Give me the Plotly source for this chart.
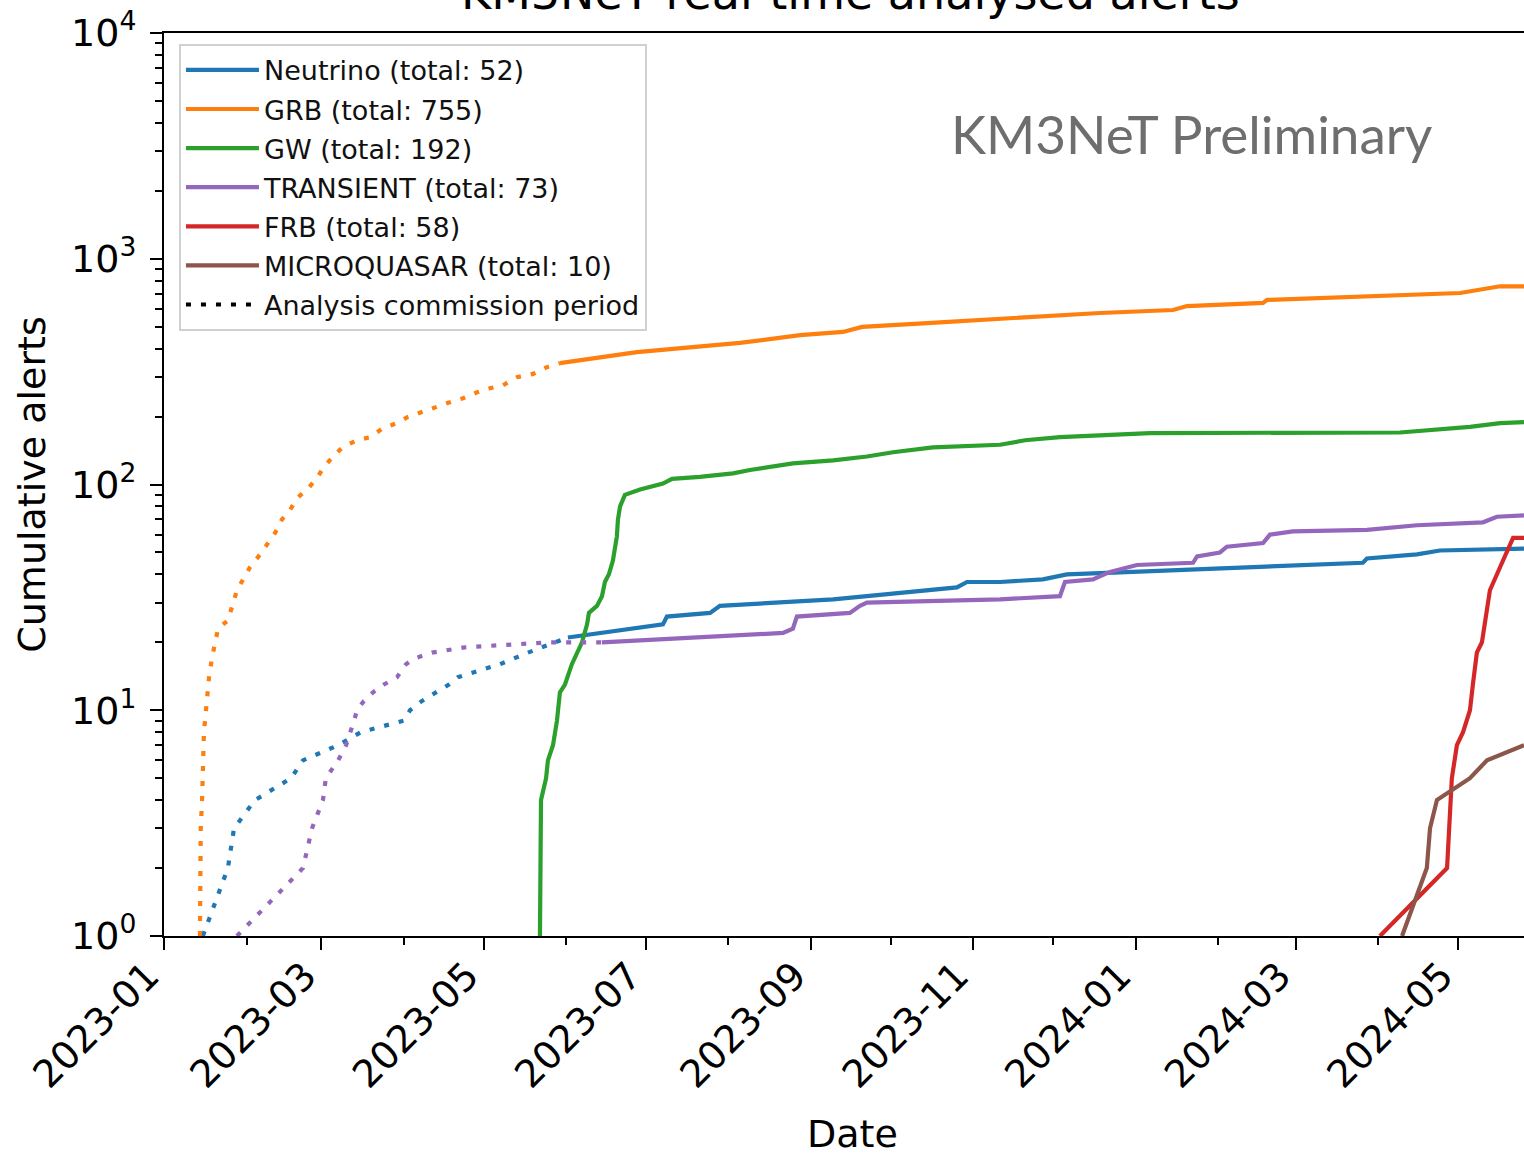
import pandas as pd
import plotly.graph_objects as go

# Cumulative alert counts; times are days since 2023-01-01
START = pd.Timestamp("2023-01-01")

# --- Neutrino ---
nu_comm_day = [14.6, 24.0, 26.3, 34.2, 47.7, 52.2, 65.4, 74.0, 90.1, 92.4, 96.9, 102.5,
               107.0, 110.4, 118.7, 126.2, 136.7, 142.3, 147.6, 151.7]
nu_comm_cnt = [1, 2, 3, 4, 5, 6, 7, 8, 9, 10, 11, 12, 13, 14, 15, 16, 18, 19, 20, 21]
nu_day = [151.7, 163.8, 176.1, 187.4, 188.9, 205.1, 208.8, 251.3, 264.0, 276.4, 297.8,
          301.6, 314.0, 330.1, 339.1, 363.9, 450.3, 451.8, 470.6, 479.2, 501.8, 510.8]
nu_cnt = [21, 22, 23, 24, 26, 27, 29, 31, 32, 33, 35, 37, 37, 38, 40, 41, 45, 47, 49, 51, 52, 52]

# --- GRB ---
grb_comm_day = [13.5, 13.6, 13.8, 14.3, 14.6, 15.0, 16.1, 16.9, 18.0, 19.2, 20.3, 24.0,
                25.5, 27.4, 29.7, 32.3, 36.1, 39.1, 41.7, 44.3, 47.3, 50.0, 54.1, 57.5,
                59.7, 63.5, 67.2, 72.5, 77.4, 82.3, 87.5, 91.6, 96.9, 101.8, 106.7, 112.3,
                117.6, 122.4, 127.3, 132.6, 138.6, 143.8, 148.7]
grb_comm_cnt = [1, 2, 3, 4, 6, 8, 11, 14, 17, 20, 23, 25, 29, 34, 38, 43, 49, 55, 61, 70,
                77, 87, 96, 107, 118, 133, 147, 157, 162, 178, 187, 199, 210, 220, 230,
                241, 256, 267, 275, 299, 309, 331, 345]
grb_day = [148.7, 177.6, 216.3, 238.9, 255.0, 262.2, 286.6, 336.5, 351.5, 379.0, 384.2,
           412.8, 414.3, 486.8, 496.9, 501.8, 510.8]
grb_cnt = [345, 386, 424, 459, 474, 499, 519, 564, 575, 593, 617, 637, 657, 705, 734, 755, 755]

# --- GW ---
gw_day = [141.2, 141.6, 143.5, 144.2, 146.1, 147.6, 148.7, 150.6, 153.2, 155.1, 157.0,
          158.9, 159.6, 162.6, 164.5, 165.6, 167.1, 168.6, 170.1, 170.5, 171.3, 173.1,
          178.8, 187.4, 190.8, 201.3, 213.7, 220.1, 236.2, 251.3, 260.3, 264.0, 273.8,
          280.2, 288.8, 314.0, 323.4, 336.5, 370.3, 464.2, 476.6, 490.5, 501.8, 510.8]
gw_cnt = [1, 4, 5, 6, 7, 9, 12, 13, 16, 18, 20, 24, 27, 29, 32, 37, 40, 46, 59, 70, 80,
          90, 95, 101, 106, 108, 112, 116, 124, 128, 131, 133, 139, 142, 146, 150, 157,
          162, 169, 170, 174, 180, 187, 189]

# --- TRANSIENT ---
tr_comm_day = [27.4, 52.2, 55.6, 59.7, 60.8, 65.4, 68.4, 70.2, 71.4, 72.5, 75.1, 78.5,
               82.6, 87.5, 90.9, 94.3, 100.7, 113.0, 145.0, 164.5]
tr_comm_cnt = [1, 2, 3, 4, 5, 6, 7, 8, 9, 10, 11, 12, 13, 14, 16, 17, 18, 19, 20, 20]
tr_day = [164.5, 201.3, 232.5, 236.2, 237.7, 257.6, 261.4, 264.0, 314.0, 336.5, 338.4,
          348.9, 355.3, 365.4, 386.5, 388.0, 396.6, 399.2, 412.8, 415.4, 424.0, 451.8,
          470.6, 495.4, 500.6, 510.8]
tr_cnt = [20, 21, 22, 23, 26, 27, 29, 30, 31, 32, 37, 38, 41, 44, 45, 48, 50, 53, 55, 60,
          62, 63, 66, 68, 72, 73]

# --- FRB ---
frb_day = [456.7, 481.9, 483.7, 485.6, 487.9, 490.5, 491.6, 493.1, 495.0, 496.9, 498.0,
           501.8, 504.4, 506.7, 510.8]
frb_cnt = [1, 2, 5, 7, 8, 10, 13, 18, 20, 28, 34, 43, 51, 58, 58]

# --- MICROQUASAR ---
mq_day = [465.0, 474.3, 475.5, 478.1, 490.5, 496.9, 510.8]
mq_cnt = [1, 2, 3, 4, 5, 6, 7]

series_names = ["Neutrino (total: 52)", "GRB (total: 755)", "GW (total: 192)",
                "TRANSIENT (total: 73)", "FRB (total: 58)", "MICROQUASAR (total: 10)"]
commission_label = "Analysis commission period"

y_tickvals = [1, 10, 100, 1000, 10000]
y_ticktext = ["10<sup>0</sup>", "10<sup>1</sup>", "10<sup>2</sup>", "10<sup>3</sup>", "10<sup>4</sup>"]

COLORS = ["#1f77b4", "#ff7f0e", "#2ca02c", "#9467bd", "#d62728", "#8c564b"]
FONT = "DejaVu Sans"
LW = 4.2
DOT = "5px,10px"


def to_dates(days):
    return [START + pd.Timedelta(days=d) for d in days]


fig = go.Figure()

solid = [(nu_day, nu_cnt), (grb_day, grb_cnt), (gw_day, gw_cnt),
         (tr_day, tr_cnt), (frb_day, frb_cnt), (mq_day, mq_cnt)]
commission = {0: (nu_comm_day, nu_comm_cnt), 1: (grb_comm_day, grb_comm_cnt),
              3: (tr_comm_day, tr_comm_cnt)}

for i, (name, (d, c)) in enumerate(zip(series_names, solid)):
    if i in commission:
        cd, cc = commission[i]
        fig.add_trace(go.Scatter(x=to_dates(cd), y=cc, mode="lines", showlegend=False,
                                 legendgroup=f"g{i}", hoverinfo="skip",
                                 line=dict(color=COLORS[i], width=LW, dash=DOT)))
    fig.add_trace(go.Scatter(x=to_dates(d), y=c, mode="lines", name=name,
                             legendgroup=f"g{i}",
                             line=dict(color=COLORS[i], width=LW)))

# legend entry for the dotted commissioning segments
fig.add_trace(go.Scatter(x=[None], y=[None], mode="lines", name=commission_label,
                         legendgroup="comm", line=dict(color="black", width=LW, dash=DOT)))

x_end = START + pd.Timedelta(days=510.8)

fig.update_layout(
    width=1524, height=1157,
    margin=dict(l=164, r=0, t=33, b=221),
    paper_bgcolor="white", plot_bgcolor="white",
    font=dict(family=FONT, color="black", size=38),
    showlegend=True,
    legend=dict(x=0.011, y=0.988, xanchor="left", yanchor="top",
                font=dict(family=FONT, size=27, color="#111111"),
                bgcolor="white", bordercolor="#d0d0d0", borderwidth=2,
                tracegroupgap=1, traceorder="grouped", itemwidth=73),
    xaxis=dict(
        type="date", range=[START, x_end],
        tickmode="linear", tick0="2023-01-01", dtick="M2", tickformat="%Y-%m",
        tickangle=-45, tickfont=dict(size=38, family=FONT),
        ticklabelshift=-16, ticklabelstandoff=-12,
        ticks="outside", ticklen=12, tickwidth=2, tickcolor="black",
        minor=dict(dtick="M1", tick0="2023-01-01", ticks="outside", ticklen=7,
                   tickwidth=1.5, tickcolor="black", showgrid=False),
        showline=True, linecolor="black", linewidth=2, mirror=True,
        showgrid=False, zeroline=False,
    ),
    yaxis=dict(
        type="log", range=[0, 4],
        tickmode="array", tickvals=y_tickvals, ticktext=y_ticktext,
        tickfont=dict(size=38, family=FONT), ticklabelstandoff=6,
        ticks="outside", ticklen=12, tickwidth=2, tickcolor="black",
        minor=dict(tickmode="array",
                   tickvals=[m * 10 ** e for e in range(4) for m in range(2, 10)],
                   ticks="outside", ticklen=7, tickwidth=1.5, tickcolor="black",
                   showgrid=False),
        showline=True, linecolor="black", linewidth=2, mirror=False,
        showgrid=False, zeroline=False,
        title=dict(text="Cumulative alerts", font=dict(size=38, family=FONT), standoff=14),
    ),
    annotations=[
        dict(text="KM3NeT real-time analysed alerts", xref="paper", yref="paper",
             x=0.505, y=1.0122, xanchor="center", yanchor="bottom", showarrow=False,
             font=dict(family=FONT, size=46, color="black")),
        dict(text="Date", xref="paper", yref="paper",
             x=0.5066, y=-0.2193, xanchor="center", yanchor="middle", showarrow=False,
             font=dict(family=FONT, size=38, color="black")),
        dict(text="KM3NeT Preliminary", xref="paper", yref="paper",
             x=0.7552, y=0.889, xanchor="center", yanchor="middle", showarrow=False,
             font=dict(family="Lato", size=53, color="#6e6e6e")),
    ],
)

fig.write_html("out.html")
